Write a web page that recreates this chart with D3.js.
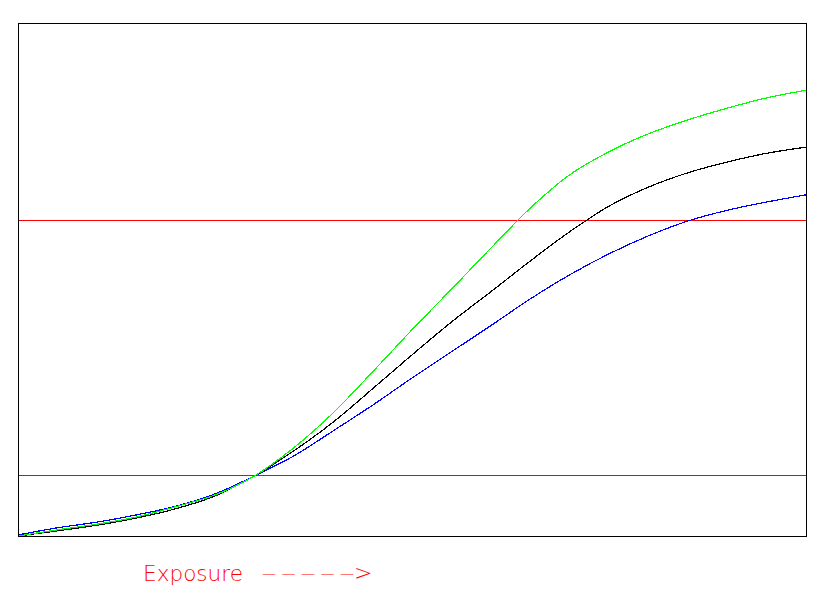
<!DOCTYPE html>
<html>
<head>
<meta charset="utf-8">
<script src="https://cdn.jsdelivr.net/npm/d3@7"></script>
<style>
  body { margin: 0; background: #fff; }
</style>
</head>
<body>
<div id="chart"></div>
<script>
// exposure steps (0..100) and density readings for each curve
var exposure = [0, 5, 10, 15, 20, 25, 30, 35, 40, 45, 50, 55, 60, 65, 70, 75, 80, 85, 90, 95, 100];
var greenCurve = [0, 1.2, 2.3, 3.7, 5.7, 8.0, 11.7, 17.2, 24.0, 32.0, 40.2, 48.1, 56.1, 63.9, 70.4, 74.9, 78.4, 81.1, 83.4, 85.4, 86.9];
var blackCurve = [0, 1.0, 2.1, 3.5, 5.3, 7.8, 11.7, 16.6, 22.2, 28.7, 35.3, 41.7, 47.6, 53.6, 59.3, 64.3, 68.0, 70.8, 72.9, 74.6, 75.8];
var blueCurve  = [0.2, 1.6, 2.7, 4.1, 5.8, 8.2, 11.7, 15.6, 20.5, 25.5, 30.8, 35.9, 41.0, 46.2, 50.9, 55.0, 58.5, 61.4, 63.5, 65.1, 66.5];
var refLevels = [11.9, 61.6];
var axisLabel = "Exposure";
var dashLabel = "\u2014\u2014\u2014\u2014\u2014";
var arrowHead = ">";

// set the dimensions and margins of the graph
var margin = {top: 23, right: 18, bottom: 72, left: 18},
    width = 825 - margin.left - margin.right,
    height = 608 - margin.top - margin.bottom;

var svg = d3.select("#chart")
  .append("svg")
    .attr("width", 825)
    .attr("height", 608)
  .append("g")
    .attr("transform", "translate(" + margin.left + "," + margin.top + ")");

var x = d3.scaleLinear()
  .domain([0, 100])
  .range([0, width - 1]);

var y = d3.scaleLinear()
  .domain([0, 100])
  .range([height, 0]);

// reference lines
svg.selectAll(".ref")
  .data(refLevels)
  .enter()
  .append("line")
    .attr("x1", 0)
    .attr("x2", width)
    .attr("y1", function(d) { return Math.round(y(d)) + 0.5; })
    .attr("y2", function(d) { return Math.round(y(d)) + 0.5; })
    .attr("stroke", "#ff0000")
    .attr("stroke-width", 1)
    .attr("shape-rendering", "crispEdges");

var series = [
  {color: "#0000ff", values: blueCurve},
  {color: "#000000", values: blackCurve},
  {color: "#00ff00", values: greenCurve}
];

var line = d3.line()
  .x(function(d, i) { return x(exposure[i]); })
  .y(function(d) { return y(d); })
  .curve(d3.curveCatmullRom.alpha(0.5));

svg.selectAll(".curve")
  .data(series)
  .enter()
  .append("path")
    .attr("fill", "none")
    .attr("stroke", function(d) { return d.color; })
    .attr("stroke-width", 1.2)
    .attr("shape-rendering", "crispEdges")
    .attr("d", function(d) { return line(d.values); });

// frame
svg.append("rect")
  .attr("x", 0.5)
  .attr("y", 0.5)
  .attr("width", width - 1)
  .attr("height", height)
  .attr("fill", "none")
  .attr("stroke", "black")
  .attr("stroke-width", 1)
  .attr("shape-rendering", "crispEdges");

// axis caption
var cap = d3.select("svg").append("text")
  .attr("fill", "#ff0000")
  .style("font-family", "DejaVu Sans")
  .style("font-weight", 200)
  .style("font-size", "22px");

cap.append("tspan")
  .attr("x", 143)
  .attr("y", 581)
  .attr("textLength", 100)
  .attr("lengthAdjust", "spacingAndGlyphs")
  .text(axisLabel);

cap.append("tspan")
  .attr("x", 262)
  .attr("y", 578)
  .style("font-size", "14px")
  .attr("textLength", 92)
  .attr("lengthAdjust", "spacing")
  .text(dashLabel);

cap.append("tspan")
  .attr("x", 354)
  .attr("y", 580)
  .text(arrowHead);
</script>
</body>
</html>
